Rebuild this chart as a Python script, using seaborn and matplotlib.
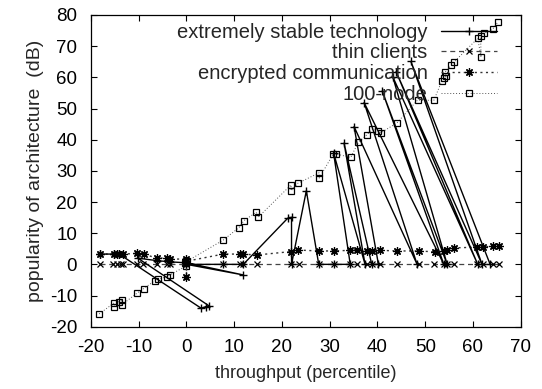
import matplotlib
matplotlib.use("Agg")
import matplotlib.pyplot as plt
import seaborn as sns
import pandas as pd

# ---- data ----
stable_x = [-18.1, -15.2, -14.1, 3.1, 4.0, 4.8, -10.2, -6.2, -3.4, 0.0, 11.9, 0.0, 7.7, 11.9,
            21.2, 22.0, 22.0, 25.1, 27.7, 30.8, 34.3, 30.8, 37.4, 33.0, 38.8, 40.2, 35.1,
            48.3, 37.2, 53.9, 41.0, 54.6, 43.2, 61.0, 43.9, 61.9, 47.0, 63.6]
stable_y = [3.3, 3.3, 3.3, -14.1, -13.6, -13.4, 2.0, 1.2, 0.8, 0.5, -3.4, 0.0, 0.0, 0.0,
            14.8, 15.1, 0.0, 23.6, 0.0, 0.0, 0.0, 35.8, 0.0, 38.9, 0.0, 0.0, 44.2,
            0.0, 51.9, 0.0, 55.6, 0.0, 60.2, 0.0, 61.8, 0.0, 65.1, 0.0]

thin_x = [-18.1, -15.3, -14.5, -13.8, -13.2, -10.3, -9.2, -6.2, -4.1, -3.4, 0.0, 7.7, 11.2,
          11.9, 14.7, 21.9, 23.5, 27.7, 30.8, 34.3, 35.7, 37.8, 38.8, 40.6, 44.1, 48.6,
          51.8, 53.9, 54.6, 56.0, 60.9, 62.0, 64.1, 65.4]
thin_y = [0.0] * len(thin_x)

enc_x = [-18.1, -15.2, -14.6, -14.1, -13.4, -10.3, -9.0, -6.2, -4.1, -3.4, 0.0, 0.0, 0.0,
         7.7, 11.2, 11.9, 14.7, 21.9, 23.3, 27.7, 30.8, 34.3, 35.8, 37.8, 38.8, 40.6,
         44.1, 48.6, 52.1, 53.9, 54.6, 56.0, 60.9, 62.0, 64.2, 65.5]
enc_y = [3.3, 3.3, 3.3, 3.3, 3.3, 3.5, 3.3, 2.0, 2.0, 1.7, 1.7, -4.0, 1.0,
         3.3, 3.3, 3.3, 3.0, 4.1, 4.6, 4.3, 4.3, 4.5, 4.7, 4.2, 4.2, 4.5,
         4.3, 4.3, 4.0, 4.3, 4.6, 5.3, 5.5, 5.6, 5.8, 5.8]

node_x = [-18.3, -15.1, -15.1, -14.2, -13.5, -13.5, -10.4, -9.0, -6.7, -6.0, -4.1, -3.4,
          0.0, -0.3, 0.2, 0.0, 7.7, 11.0, 12.0, 14.6, 15.0, 21.9, 21.9, 23.3, 27.8, 27.8,
          30.7, 31.4, 34.4, 36.0, 37.8, 38.9, 40.2, 40.7, 44.1, 48.4, 51.8, 53.5, 53.9,
          54.4, 54.2, 55.5, 56.1, 61.0, 61.7, 61.6, 62.3, 64.1, 65.3]
node_y = [-15.9, -12.3, -13.6, -12.0, -11.4, -12.9, -9.3, -7.8, -5.3, -4.8, -4.0, -3.3,
          -0.5, 0.3, 1.0, 0.9, 7.8, 11.8, 14.0, 16.7, 15.1, 25.5, 23.6, 26.0, 29.4, 27.7,
          35.3, 35.4, 34.3, 39.2, 41.6, 43.4, 42.9, 42.2, 45.4, 52.7, 52.6, 58.9, 59.7,
          60.4, 61.7, 64.0, 65.0, 72.5, 66.4, 73.3, 74.1, 75.4, 77.9]

labels = ["extremely stable technology", "thin clients", "encrypted communication", "100-node"]
x_ticks = [-20, -10, 0, 10, 20, 30, 40, 50, 60, 70]
y_ticks = [-20, -10, 0, 10, 20, 30, 40, 50, 60, 70, 80]

sns.set_style("ticks")
plt.rcParams['font.family'] = ['Liberation Sans', 'DejaVu Sans']
plt.rcParams['axes.unicode_minus'] = False

fig = plt.figure(figsize=(5.42, 3.89), dpi=100)
ax = fig.add_axes([91 / 542, 1 - 326.7 / 389, (520.7 - 91) / 542, (326.7 - 15) / 389])

series = [
    (node_x, node_y, labels[3], dict(linestyle=(0, (1, 2)), linewidth=0.7, color='#555555',
                                     marker='s', markersize=5, markerfacecolor='none',
                                     markeredgecolor='black', markeredgewidth=0.9)),
    (thin_x, thin_y, labels[1], dict(linestyle=(0, (4, 3)), linewidth=0.9, color='#444444',
                                     marker='x', markersize=5, markeredgecolor='black',
                                     markeredgewidth=0.9)),
    (enc_x, enc_y, labels[2], dict(linestyle=(0, (1.5, 2.5)), linewidth=1.0, color='#333333',
                                   marker=(8, 2, 0), markersize=6, markeredgecolor='black',
                                   markeredgewidth=0.9)),
    (stable_x, stable_y, labels[0], dict(linestyle='-', linewidth=1.0, color='black',
                                         marker='+', markersize=6, markeredgecolor='black',
                                         markeredgewidth=1.0)),
]

for xs, ys, lab, kw in series:
    df = pd.DataFrame({"x": xs, "y": ys})
    sns.lineplot(data=df, x="x", y="y", sort=False, estimator=None, ax=ax, label=lab, **kw)

ax.set_xlim(-20, 70)
ax.set_ylim(-20, 80)
ax.set_xticks(x_ticks)
ax.set_yticks(y_ticks)
ax.tick_params(direction='in', length=4, width=0.8, top=True, right=True,
               labelsize=13.5, colors='black')
ax.tick_params(axis='y', pad=10)
ax.tick_params(axis='x', pad=9)
for s in ax.spines.values():
    s.set_linewidth(0.9)
    s.set_color('black')
    s.set_visible(True)
ax.set_xlabel("throughput (percentile)", fontsize=13, labelpad=6)
ax.set_ylabel("popularity of architecture  (dB)", fontsize=14, labelpad=4)

h, l = ax.get_legend_handles_labels()
order = [l.index(t) for t in labels]
leg = ax.legend([h[i] for i in order], [l[i] for i in order], loc='upper right',
                bbox_to_anchor=(0.945, 0.975), frameon=False, markerfirst=False,
                fontsize=14.5, handlelength=2.8, handletextpad=0.65, labelspacing=0.08,
                borderpad=0, borderaxespad=0)
for col in leg._legend_handle_box.get_children():
    col.align = "right"

fig.savefig("out.png", dpi=100)
